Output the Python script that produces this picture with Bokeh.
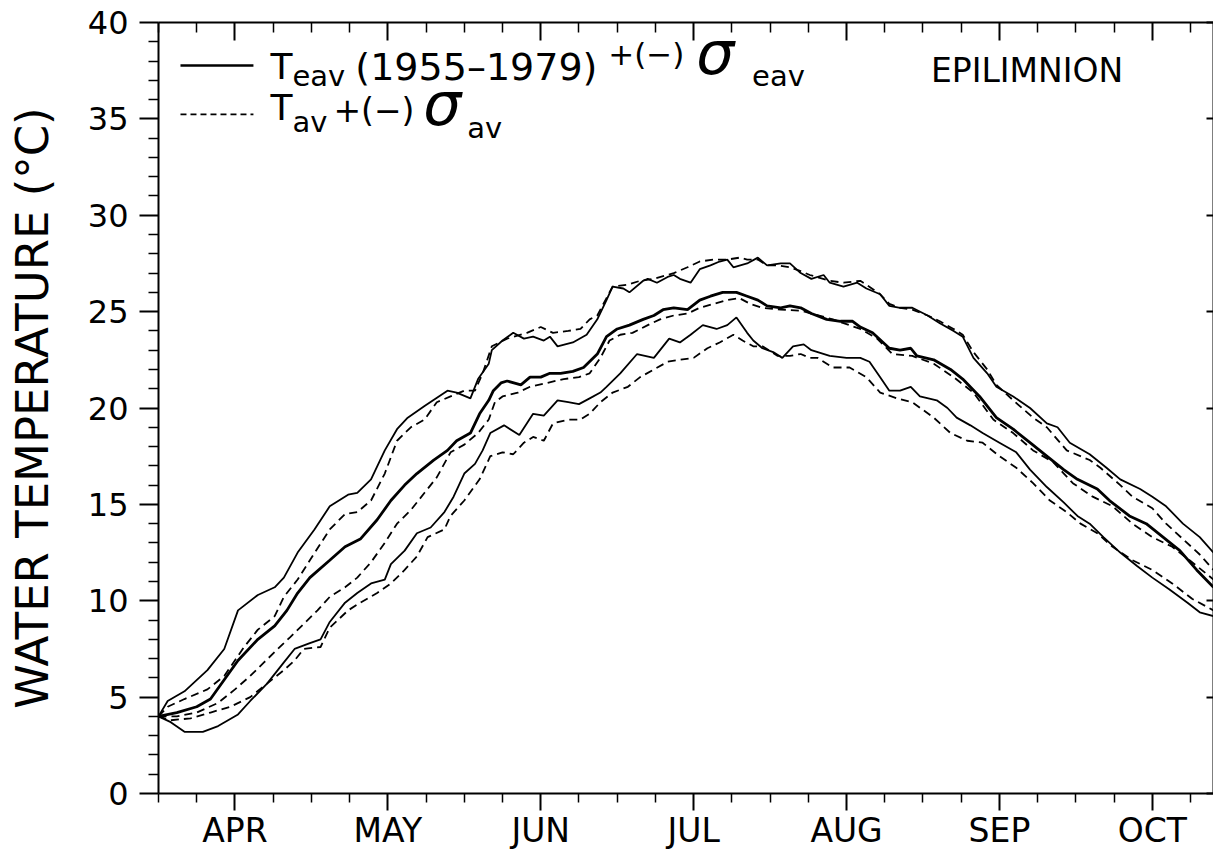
from bokeh.plotting import figure
from bokeh.models import Range1d, LinearAxis, FixedTicker, Label
from bokeh.embed import file_html
from bokeh.resources import INLINE

FONT = "DejaVu Sans"

# ---- axis definitions (x in "month" units: 4 = APR tick, 5 = MAY tick, ...)
month_ticks = [4, 5, 6, 7, 8, 9, 10]
month_labels = ["APR", "MAY", "JUN", "JUL", "AUG", "SEP", "OCT"]
temp_ticks = [0, 5, 10, 15, 20, 25, 30, 35, 40]

# ---- T_eav (1955-1979) +/- sigma_eav  (solid lines)
su_x = [3.50, 3.56, 3.67, 3.82, 3.93, 4.02, 4.15, 4.26, 4.32, 4.41,
        4.52, 4.62, 4.74, 4.80, 4.89, 4.98, 5.06, 5.13, 5.24, 5.39,
        5.45, 5.54, 5.59, 5.66, 5.68, 5.75, 5.82, 5.89, 5.95, 6.02,
        6.06, 6.11, 6.21, 6.30, 6.37, 6.43, 6.47, 6.54, 6.58, 6.67,
        6.70, 6.76, 6.83, 6.87, 6.91, 6.98, 7.04, 7.11, 7.17, 7.22,
        7.26, 7.35, 7.42, 7.48, 7.57, 7.63, 7.70, 7.77, 7.85, 7.89,
        7.98, 8.07, 8.13, 8.22, 8.28, 8.35, 8.43, 8.53, 8.61, 8.70,
        8.76, 8.83, 8.92, 8.98, 9.09, 9.20, 9.31, 9.38, 9.46, 9.59,
        9.70, 9.79, 9.92, 10.00, 10.09, 10.20, 10.31, 10.40]
su_y = [4.0, 4.8, 5.3, 6.4, 7.5, 9.5, 10.3, 10.7, 11.2, 12.5,
        13.7, 14.9, 15.5, 15.6, 16.3, 17.8, 18.9, 19.5, 20.1, 20.9,
        20.8, 20.5, 21.5, 22.3, 23.0, 23.5, 23.9, 23.6, 23.7, 23.5,
        23.7, 23.2, 23.4, 23.8, 24.6, 25.6, 26.3, 26.2, 26.0, 26.6,
        26.7, 26.5, 26.8, 26.9, 26.7, 26.5, 27.2, 27.4, 27.6, 27.7,
        27.3, 27.5, 27.8, 27.4, 27.5, 27.5, 27.0, 26.7, 26.9, 26.5,
        26.3, 26.5, 26.2, 25.9, 25.3, 25.2, 25.2, 24.8, 24.4, 24.0,
        23.7, 22.6, 21.8, 21.1, 20.6, 20.0, 19.2, 19.0, 18.2, 17.6,
        16.9, 16.3, 15.8, 15.4, 14.9, 14.0, 13.3, 12.5]

sm_x = [3.50, 3.62, 3.75, 3.84, 3.93, 4.02, 4.15, 4.26, 4.34, 4.41,
        4.49, 4.62, 4.72, 4.82, 4.93, 5.02, 5.11, 5.19, 5.30, 5.39,
        5.45, 5.54, 5.60, 5.66, 5.69, 5.74, 5.78, 5.87, 5.93, 6.00,
        6.06, 6.13, 6.21, 6.28, 6.37, 6.43, 6.50, 6.58, 6.67, 6.74,
        6.80, 6.87, 6.96, 7.04, 7.11, 7.19, 7.28, 7.35, 7.42, 7.48,
        7.57, 7.63, 7.70, 7.77, 7.87, 7.96, 8.04, 8.09, 8.17, 8.28,
        8.35, 8.42, 8.46, 8.57, 8.68, 8.76, 8.87, 8.98, 9.09, 9.20,
        9.31, 9.42, 9.51, 9.64, 9.72, 9.85, 9.96, 10.07, 10.18, 10.29,
        10.40]
sm_y = [4.0, 4.2, 4.5, 4.9, 5.9, 6.9, 8.0, 8.7, 9.5, 10.4,
        11.2, 12.1, 12.8, 13.2, 14.2, 15.2, 16.0, 16.6, 17.3, 17.8,
        18.3, 18.7, 19.7, 20.4, 20.9, 21.3, 21.4, 21.2, 21.6, 21.6,
        21.8, 21.8, 21.9, 22.1, 22.8, 23.7, 24.1, 24.3, 24.6, 24.8,
        25.1, 25.2, 25.1, 25.6, 25.8, 26.0, 26.0, 25.8, 25.6, 25.3,
        25.2, 25.3, 25.2, 24.9, 24.6, 24.5, 24.5, 24.2, 23.9, 23.1,
        23.0, 23.1, 22.7, 22.5, 22.0, 21.5, 20.6, 19.5, 18.9, 18.2,
        17.5, 16.8, 16.3, 15.8, 15.2, 14.4, 14.0, 13.3, 12.6, 11.6,
        10.7]

sl_x = [3.50, 3.58, 3.67, 3.79, 3.89, 4.02, 4.10, 4.21, 4.32, 4.39,
        4.49, 4.56, 4.62, 4.72, 4.80, 4.89, 4.98, 5.02, 5.11, 5.19,
        5.28, 5.37, 5.43, 5.50, 5.57, 5.62, 5.67, 5.76, 5.86, 5.95,
        6.02, 6.11, 6.18, 6.25, 6.32, 6.39, 6.43, 6.52, 6.63, 6.74,
        6.84, 6.91, 6.98, 7.06, 7.15, 7.22, 7.28, 7.35, 7.39, 7.45,
        7.52, 7.58, 7.65, 7.72, 7.77, 7.89, 8.00, 8.09, 8.15, 8.22,
        8.28, 8.35, 8.42, 8.48, 8.59, 8.66, 8.72, 8.81, 8.89, 9.00,
        9.11, 9.20, 9.31, 9.42, 9.51, 9.59, 9.68, 9.79, 9.90, 10.00,
        10.11, 10.23, 10.31, 10.40]
sl_y = [4.0, 3.7, 3.2, 3.2, 3.5, 4.1, 4.8, 5.7, 6.8, 7.5,
        7.8, 8.0, 8.9, 9.9, 10.4, 10.9, 11.1, 11.9, 12.6, 13.5,
        13.8, 14.6, 15.4, 16.6, 17.1, 17.8, 18.7, 19.1, 18.6, 19.7,
        19.6, 20.4, 20.3, 20.2, 20.5, 20.8, 21.1, 21.8, 22.8, 22.6,
        23.6, 23.4, 23.8, 24.3, 24.1, 24.3, 24.7, 23.9, 23.5, 23.1,
        22.9, 22.6, 23.2, 23.3, 23.0, 22.7, 22.6, 22.6, 22.4, 21.6,
        20.9, 20.9, 21.1, 20.6, 20.4, 20.0, 19.5, 19.1, 18.7, 18.2,
        17.7, 16.8, 15.9, 15.1, 14.4, 14.0, 13.3, 12.5, 11.8, 11.2,
        10.6, 9.9, 9.4, 9.2]

# ---- T_av +/- sigma_av  (dashed lines)
du_x = [3.50, 3.56, 3.67, 3.82, 3.93, 4.06, 4.15, 4.26, 4.32, 4.41,
        4.49, 4.62, 4.72, 4.80, 4.89, 4.98, 5.06, 5.15, 5.24, 5.32,
        5.41, 5.50, 5.57, 5.62, 5.68, 5.78, 5.91, 6.00, 6.08, 6.18,
        6.26, 6.32, 6.37, 6.43, 6.47, 6.57, 6.65, 6.74, 6.87, 6.96,
        7.04, 7.13, 7.22, 7.30, 7.35, 7.42, 7.48, 7.55, 7.63, 7.70,
        7.76, 7.89, 7.98, 8.09, 8.13, 8.22, 8.28, 8.35, 8.43, 8.53,
        8.61, 8.70, 8.76, 8.83, 8.92, 8.98, 9.09, 9.22, 9.31, 9.44,
        9.59, 9.66, 9.79, 9.87, 10.00, 10.09, 10.20, 10.31, 10.40]
du_y = [4.0, 4.5, 4.9, 5.4, 6.1, 7.6, 8.5, 9.2, 10.2, 11.1,
        12.1, 13.7, 14.5, 14.6, 15.2, 16.6, 18.3, 19.0, 19.4, 20.3,
        20.6, 20.9, 20.9, 21.8, 23.2, 23.6, 23.9, 24.2, 23.9, 24.0,
        24.1, 24.6, 24.8, 25.7, 26.3, 26.4, 26.6, 26.7, 27.0, 27.3,
        27.6, 27.7, 27.7, 27.8, 27.7, 27.7, 27.4, 27.4, 27.3, 27.1,
        26.9, 26.6, 26.5, 26.6, 26.4, 25.9, 25.4, 25.2, 25.1, 24.8,
        24.5, 24.1, 23.8, 22.9, 22.0, 21.2, 20.4, 19.5, 19.0, 17.8,
        17.3, 16.9, 16.0, 15.4, 14.8, 14.0, 13.2, 12.4, 11.6]

dm_x = [3.50, 3.62, 3.75, 3.89, 4.00, 4.10, 4.19, 4.28, 4.36, 4.45,
        4.54, 4.62, 4.72, 4.80, 4.89, 4.98, 5.06, 5.15, 5.24, 5.32,
        5.41, 5.50, 5.59, 5.66, 5.70, 5.75, 5.85, 5.93, 6.04, 6.15,
        6.25, 6.32, 6.39, 6.45, 6.52, 6.60, 6.70, 6.78, 6.87, 6.96,
        7.04, 7.13, 7.22, 7.30, 7.37, 7.45, 7.57, 7.70, 7.91, 8.09,
        8.20, 8.30, 8.43, 8.57, 8.70, 8.83, 8.96, 9.09, 9.22, 9.35,
        9.48, 9.61, 9.74, 9.87, 10.00, 10.13, 10.26, 10.40]
dm_y = [4.0, 4.0, 4.2, 4.7, 5.4, 6.1, 6.8, 7.5, 8.1, 8.8,
        9.5, 10.2, 10.7, 11.2, 12.0, 13.0, 14.0, 14.7, 15.6, 16.4,
        17.7, 18.1, 18.7, 19.4, 20.3, 20.6, 20.8, 21.1, 21.3, 21.5,
        21.6, 21.8, 22.6, 23.5, 23.8, 23.9, 24.3, 24.6, 24.8, 24.9,
        25.2, 25.4, 25.6, 25.7, 25.4, 25.2, 25.1, 25.05, 24.6, 24.1,
        23.6, 22.8, 22.7, 22.3, 21.6, 20.8, 19.4, 18.7, 17.8, 17.2,
        16.1, 15.4, 14.9, 14.0, 13.3, 12.8, 12.0, 11.1]

dl_x = [3.50, 3.58, 3.71, 3.84, 3.97, 4.10, 4.21, 4.32, 4.39, 4.45,
        4.56, 4.62, 4.74, 4.82, 4.93, 5.02, 5.11, 5.19, 5.26, 5.37,
        5.41, 5.50, 5.60, 5.67, 5.75, 5.82, 5.89, 5.95, 6.02, 6.08,
        6.18, 6.26, 6.32, 6.39, 6.47, 6.57, 6.65, 6.74, 6.83, 6.91,
        7.00, 7.09, 7.17, 7.26, 7.32, 7.39, 7.45, 7.55, 7.63, 7.70,
        7.76, 7.81, 7.91, 8.02, 8.13, 8.22, 8.33, 8.43, 8.57, 8.68,
        8.79, 8.89, 9.00, 9.11, 9.22, 9.33, 9.44, 9.53, 9.64, 9.74,
        9.87, 10.00, 10.13, 10.26, 10.40]
dl_y = [4.0, 3.8, 3.9, 4.2, 4.5, 5.0, 5.7, 6.4, 6.9, 7.5,
        7.6, 8.6, 9.5, 9.9, 10.4, 10.9, 11.6, 12.3, 13.3, 13.7,
        14.4, 15.2, 16.3, 17.5, 17.7, 17.6, 18.2, 18.5, 18.3, 19.2,
        19.4, 19.4, 19.7, 20.3, 20.8, 21.1, 21.6, 22.0, 22.4, 22.5,
        22.6, 23.1, 23.4, 23.8, 23.5, 23.2, 23.2, 22.7, 22.7, 22.8,
        22.6, 22.6, 22.1, 22.1, 21.6, 20.8, 20.5, 20.3, 19.5, 18.7,
        18.3, 18.2, 17.5, 16.9, 16.1, 15.2, 14.6, 14.0, 13.5, 12.8,
        12.1, 11.6, 10.9, 10.1, 9.5]

for a, b in [(su_x, su_y), (sm_x, sm_y), (sl_x, sl_y),
             (du_x, du_y), (dm_x, dm_y), (dl_x, dl_y)]:
    assert len(a) == len(b)

X0, X1 = 3.5, 10.40
Y0, Y1 = 0, 40

p = figure(width=1213, height=852, x_range=Range1d(X0, X1), y_range=Range1d(Y0, Y1),
           output_backend="svg", toolbar_location=None,
           min_border_left=158, min_border_right=0, min_border_top=22, min_border_bottom=58)
p.outline_line_color = None
p.grid.visible = False
p.background_fill_color = "white"
p.border_fill_color = "white"

month_minor = [X0 + 0.25 * i for i in range(28) if (X0 + 0.25 * i) not in month_ticks]
temp_minor = [t for t in range(Y0, Y1 + 1) if t % 5]

xa = p.xaxis[0]
xa.ticker = FixedTicker(ticks=month_ticks, minor_ticks=month_minor)
xa.major_label_overrides = {t: l for t, l in zip(month_ticks, month_labels)}
xa.major_tick_out = 17
xa.major_tick_in = 0
xa.minor_tick_out = 9
xa.minor_tick_in = 0
xa.axis_line_width = 2
xa.major_tick_line_width = 2
xa.minor_tick_line_width = 1.5
xa.major_label_text_font = FONT
xa.major_label_text_font_size = "33px"
xa.major_label_text_color = "black"
xa.major_label_standoff = 0

ya = p.yaxis[0]
ya.ticker = FixedTicker(ticks=temp_ticks, minor_ticks=temp_minor)
ya.major_tick_out = 19
ya.major_tick_in = 0
ya.minor_tick_out = 10
ya.minor_tick_in = 0
ya.axis_line_width = 2
ya.major_tick_line_width = 2
ya.minor_tick_line_width = 1.5
ya.major_label_text_font = FONT
ya.major_label_text_font_size = "32px"
ya.major_label_text_color = "black"
ya.major_label_standoff = 11
ya.axis_label = "WATER TEMPERATURE (°C)"
ya.axis_label_text_font = FONT
ya.axis_label_text_font_size = "45px"
ya.axis_label_text_font_style = "normal"
ya.axis_label_text_color = "black"
ya.axis_label_standoff = 26

top = LinearAxis(ticker=FixedTicker(ticks=month_ticks, minor_ticks=month_minor),
                 major_tick_in=18, major_tick_out=0, minor_tick_in=10, minor_tick_out=0,
                 axis_line_width=2, major_tick_line_width=2, minor_tick_line_width=1.5,
                 major_label_overrides={t: "" for t in month_ticks},
                 major_label_text_font_size="0px", major_label_standoff=0)
p.add_layout(top, "above")

right = LinearAxis(ticker=FixedTicker(ticks=temp_ticks, minor_ticks=[]),
                   major_tick_in=7, major_tick_out=0, minor_tick_line_color=None,
                   axis_line_width=2, major_tick_line_width=2,
                   major_label_overrides={t: "" for t in temp_ticks},
                   major_label_text_font_size="0px", major_label_standoff=0)
p.add_layout(right, "right")

# ---- curves
p.line(su_x, su_y, line_color="black", line_width=1.8)
p.line(sm_x, sm_y, line_color="black", line_width=2.8)
p.line(sl_x, sl_y, line_color="black", line_width=1.8)
p.line(du_x, du_y, line_color="black", line_width=1.8, line_dash="8 5")
p.line(dm_x, dm_y, line_color="black", line_width=1.8, line_dash="8 5")
p.line(dl_x, dl_y, line_color="black", line_width=1.8, line_dash="8 5")

# ---- annotation layout helpers (page pixel layout -> data units)
def px2x(px):
    return X0 + (px - 158) / 153.0

def py2y(py):
    return (794 - py) / 19.3

# legend keys
p.line([px2x(180), px2x(253)], [py2y(65), py2y(65)], line_color="black", line_width=2.6)
p.line([px2x(180), px2x(253)], [py2y(114), py2y(114)], line_color="black", line_width=1.8,
       line_dash="6 4")

BASE_SHIFT = 12  # rendered baseline sits lower than the anchor

def txt(px, py, s, size, italic=False):
    p.add_layout(Label(x=px2x(px), y=py2y(py - BASE_SHIFT), text=s, text_font=FONT,
                       text_font_size=f"{size}px",
                       text_font_style="italic" if italic else "normal",
                       text_color="black", text_baseline="alphabetic", text_align="left"))

# line 1: T_eav (1955-1979)^{+(-)} sigma_eav
txt(270, 78, "T", 36)
txt(292, 88, "eav", 29)
txt(355, 79, "(1955–1979)", 38)
txt(608, 66, "+(−)", 31)
txt(696, 65, "σ", 60, italic=True)
txt(752, 88, "eav", 29)
# line 2: T_av +(-) sigma_av
txt(270, 119, "T", 36)
txt(292, 134, "av", 29)
txt(333, 122, "+(−)", 33)
txt(423, 116, "σ", 60, italic=True)
txt(467, 140, "av", 29)

# panel title
txt(931, 82, "EPILIMNION", 33)

open("out.html", "w").write(file_html(p, INLINE))
